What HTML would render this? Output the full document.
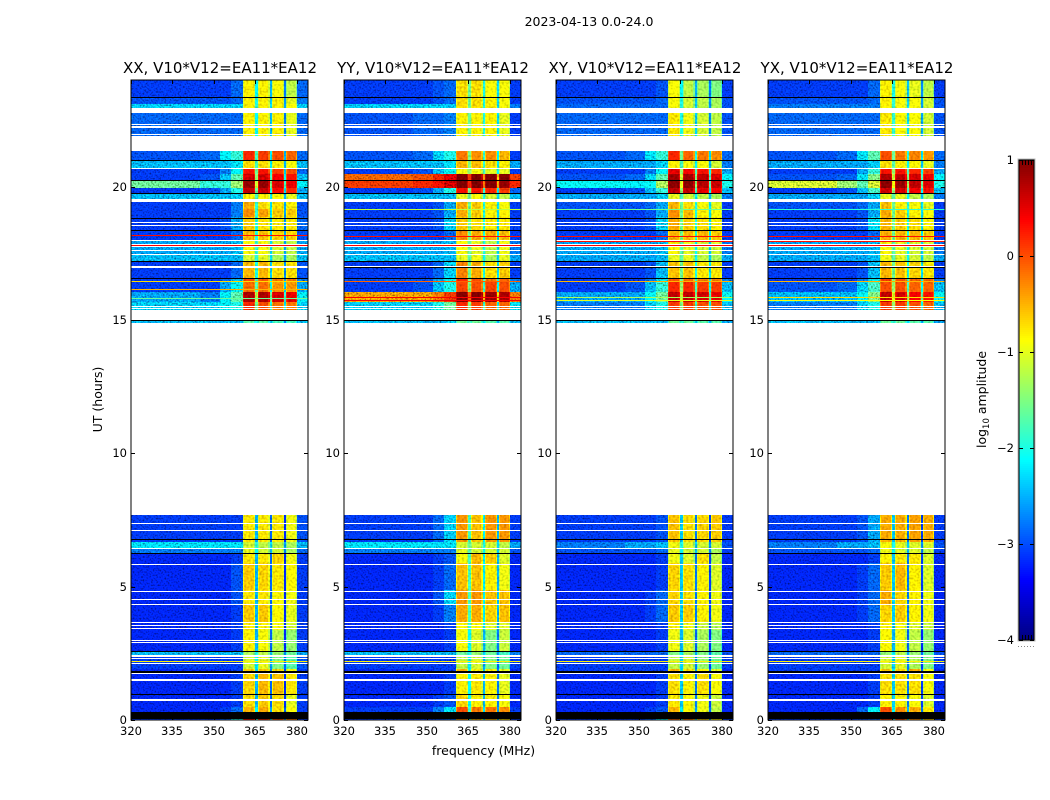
<!DOCTYPE html>
<html>
<head>
<meta charset="utf-8">
<title>2023-04-13 0.0-24.0</title>
<style>
html,body{margin:0;padding:0;background:#fff;width:1050px;height:800px;overflow:hidden}
svg{display:block}
text{font-family:"DejaVu Sans","Liberation Sans",sans-serif;fill:#000}
</style>
</head>
<body>
<svg id="chart" xmlns="http://www.w3.org/2000/svg" width="1050" height="800" viewBox="0 0 1050 800">
<defs>
<filter id="speckleStrong" filterUnits="userSpaceOnUse" x="0" y="0" width="1050" height="800" color-interpolation-filters="sRGB">
<feTurbulence type="fractalNoise" baseFrequency="0.6" numOctaves="1" seed="7" result="n"/>
<feColorMatrix in="n" type="matrix" values="1.5 0 0 0 -0.25  1.5 0 0 0 -0.25  1.5 0 0 0 -0.25  0 0 0 0 1" result="g"/>
<feComposite in="SourceGraphic" in2="g" operator="arithmetic" k1="1.1" k2="0.47" k3="0" k4="0"/>
</filter>
<filter id="speckleWeak" filterUnits="userSpaceOnUse" x="0" y="0" width="1050" height="800" color-interpolation-filters="sRGB">
<feTurbulence type="fractalNoise" baseFrequency="0.45" numOctaves="1" seed="3" result="n"/>
<feColorMatrix in="n" type="matrix" values="1 0 0 0 0  1 0 0 0 0  1 0 0 0 0  0 0 0 0 1" result="g"/>
<feComposite in="SourceGraphic" in2="g" operator="arithmetic" k1="0.7" k2="0.65" k3="0" k4="0"/>
</filter>
</defs>
<text x="589" y="26" font-size="12.5" text-anchor="middle">2023-04-13 0.0-24.0</text>
<text x="483.5" y="755" font-size="12.5" text-anchor="middle">frequency (MHz)</text>
<text x="0" y="0" font-size="12.5" text-anchor="middle" transform="translate(102,399.5) rotate(-90)">UT (hours)</text>
<text x="0" y="0" font-size="12.5" text-anchor="middle" transform="translate(986,399.5) rotate(-90)">log<tspan font-size="8.5" dy="3">10</tspan><tspan dy="-3"> amplitude</tspan></text>
</svg>
<script>
var panelTitles = ["XX, V10*V12=EA11*EA12","YY, V10*V12=EA11*EA12","XY, V10*V12=EA11*EA12","YX, V10*V12=EA11*EA12"];
var xTickValues = [320,335,350,365,380];
var yTickValues = [0,5,10,15,20];
var cbarTickValues = [1,0,-1,-2,-3,-4];
var cbarTickLabels = ["1","0","\u22121","\u22122","\u22123","\u22124"];
var freqEdges = [320,345,352,356,360.4,360.8,364.6,365,365.9,366.3,369.7,370.1,371,371.4,374.8,375.2,376.1,376.5,379.6,380,384];
var bandStart = [24,23.35,23.1,22.94,21.32,21,20.7,20.49,20.25,19.96,19.73,19.44,19.18,18.86,18.36,18,17.49,17.2,16.58,16.42,16.04,15.67,15,7.67,6.69,6.46,6.26,5.87,4.86,4.33,3.66,3.36,2.6,2.38,1.93,1.78,0.96,0.5,0.29,0.045];
var bandEnd = [23.35,23.1,22.94,21.32,21,20.7,20.49,20.25,19.96,19.73,19.44,19.18,18.86,18.36,18,17.49,17.2,16.58,16.42,16.04,15.67,15.37,14.9,6.69,6.46,6.26,5.87,4.86,4.33,3.66,3.36,2.6,2.38,1.93,1.78,0.96,0.5,0.29,0.045,0];
var whiteStart = [22.94,22.35,22.26,21.98,21.89,20.7,19.52,18.67,18.56,17.99,17.86,17.62,17.49,17.01,15.54,15.44,15.37,7.39,7.14,6.46,5.86,4.85,4.55,4.36,3.66,3.56,3.44,3,2.93,2.42,2.33,2.13,1.76,1.52,0.77];
var whiteEnd = [22.76,22.31,22.2,21.94,21.32,20.66,19.44,18.64,18.53,17.97,17.73,17.58,17.46,16.96,15.5,15.42,15.01,7.36,7.11,6.4,5.82,4.81,4.51,4.32,3.63,3.53,3.41,2.97,2.9,2.38,2.3,2.09,1.72,1.48,0.73];
var blackStart = [23.35,21,20.26,19.75,18.83,18.38,17.2,16.58,15.01,6.79,6.27,2.6,1.82,0.98,0.29];
var blackEnd = [23.31,20.96,20.22,19.71,18.78,18.33,17.17,16.54,14.98,6.76,6.24,2.57,1.78,0.96,0.05];

/* log10 amplitude per row: 320-345, 345-352, 352-356, 356-360, sub1, sub2, sub3, sub4, gaps, 380-384 */
var levelsXX = [
[-3,-3,-3,-2.8,-.8,-.8,-.9,-1.2,-2.5,-2.8],
[-2.9,-2.9,-2.9,-2.8,-.8,-.8,-.8,-1,-2.4,-2.7],
[-2.4,-2.4,-2.4,-2.4,-.8,-.8,-.8,-.9,-2.3,-2.4],
[-2.8,-2.8,-2.8,-2.8,-.8,-.8,-.8,-1,-2.5,-2.8],
[-2.9,-2.8,-2.2,-1.9,.2,.1,0,-.1,-2.2,-2.8],
[-2.5,-2.5,-2.5,-2.3,-.7,-.7,-.8,-.9,-2.2,-2.5],
[-3,-3,-2.7,-2.2,.3,.3,.1,0,-2,-2.8],
[-3,-2.9,-2.5,-1.7,.6,.6,.4,.3,-1.8,-2.5],
[-1.6,-1.9,-1.9,-1.4,.9,.9,.6,.45,-1.5,-2.2],
[-3,-2.9,-2.6,-2,.65,.65,.35,.2,-2,-2.6],
[-2.5,-2.5,-2.5,-2.4,-.8,-.8,-.9,-1,-2.2,-2.5],
[-3,-3,-3,-2.7,-.45,-.7,-.7,-.8,-2.3,-2.9],
[-3,-3,-3,-2.7,-.3,-.4,-.6,-.6,-2.3,-2.9],
[-3,-3,-2.9,-2.6,-.6,-.7,-.75,-.75,-2.4,-2.8],
[-3,-3,-3,-2.8,-.5,-.55,-.65,-.65,-2.4,-2.9],
[-2.6,-2.6,-2.6,-2.5,-.9,-.9,-1.1,-1.2,-2.3,-2.6],
[-2.5,-2.5,-2.5,-2.5,-1.1,-1,-1.3,-1.3,-2.3,-2.5],
[-3,-3,-3,-2.8,-.5,-.5,-.7,-.7,-2.4,-2.9],
[-3,-3,-2.8,-2.5,.05,-.05,-.2,-.2,-2.2,-2.7],
[-3,-3,-2.6,-2.1,-.15,-.15,-.35,-.35,-2.1,-2.6],
[-2.6,-2.7,-2.2,-1.7,.8,.8,.6,.5,-1.6,-2.2],
[-2.4,-2.4,-2.2,-2,.2,0,-.2,-.2,-2,-2.4],
[-2.5,-2.5,-2.5,-2.5,-1.7,-1.7,-1.8,-1.8,-2.4,-2.5],
[-3,-3,-3,-3,-.75,-.75,-.75,-.95,-2.8,-2.9],
[-2.3,-2.3,-2.3,-2.3,-1.1,-1.2,-1.2,-1.3,-2.3,-2.5],
[-2.7,-2.7,-2.7,-2.7,-1,-1.1,-1.1,-1.3,-2.5,-2.8],
[-3.1,-3.1,-3.1,-3,-.75,-.75,-.65,-.95,-2.8,-3],
[-3.1,-3.1,-3.1,-2.9,-.6,-.65,-.75,-.85,-2.8,-3],
[-3.1,-3.1,-3.1,-2.9,-.75,-.75,-.85,-.95,-2.8,-3],
[-3.1,-3.1,-3.1,-3,-.6,-.6,-.85,-1,-2.8,-3],
[-3.1,-3.1,-3.1,-3,-.75,-.8,-.9,-1.1,-2.8,-3],
[-3.1,-3.1,-3.1,-3,-.8,-.9,-1.2,-1.4,-2.8,-3],
[-2.5,-2.5,-2.5,-2.5,-1.3,-1.2,-1.4,-1.6,-2.4,-2.6],
[-3,-3,-3,-3,-1.1,-1,-1.5,-1.7,-2.6,-2.9],
[-3.1,-3.1,-3.1,-3,-.6,-.6,-.7,-.9,-2.7,-3],
[-3.1,-3.1,-3.1,-3,-.65,-.5,-.55,-.75,-2.8,-3],
[-3.1,-3.1,-3.1,-3,-.7,-.6,-.7,-1,-2.8,-3],
[-3.1,-3.1,-3,-2.8,-.5,-.45,-.7,-.9,-2.6,-3],
[-3,-3,-3,-3,-.5,-.5,-.6,-.8,-2.6,-3],
[-3,-3,-2.8,-2,.3,.2,0,-.2,-2.3,-3]
];
var levelsYY = [
[-3,-3,-2.9,-2.8,-.7,-.7,-.9,-.9,-2,-3],
[-3,-3,-2.9,-2.8,-.7,-.7,-.8,-.9,-2,-3],
[-2.4,-2.4,-2.4,-2.4,-.7,-.7,-.8,-.9,-2,-2.7],
[-2.9,-2.8,-2.8,-2.7,-.8,-.8,-.8,-1,-2,-3],
[-2.9,-2.8,-2.4,-2,-.2,-.3,-.3,-.5,-1.9,-3],
[-2.5,-2.5,-2.5,-2.3,-.5,-.5,-.7,-.8,-1.9,-2.6],
[-3,-2.9,-2.5,-2.1,-.9,-.9,-1,-1,-1.8,-3],
[-.1,0,.2,.5,1,1,1,1,-.3,.1],
[.1,.2,.3,.6,1,1,1,.9,-.2,.2],
[-3,-2.9,-2.6,-2,.3,.3,.2,.1,-1.9,-2.8],
[-2.5,-2.5,-2.5,-2.5,-1,-.9,-1.1,-1.2,-2,-2.5],
[-3,-3,-2.9,-2.6,-.45,-.6,-.8,-.9,-2,-3],
[-3,-3,-2.9,-2.6,-.45,-.6,-.8,-.8,-2,-3],
[-3,-3,-2.9,-2.4,-.6,-.7,-.75,-.75,-2,-3],
[-3,-3,-3,-2.8,-.3,-.45,-.45,-.55,-2,-3],
[-2.6,-2.6,-2.6,-2.5,-.9,-1,-1.2,-.95,-2,-2.7],
[-2.5,-2.5,-2.5,-2.5,-1,-.95,-1.3,-1,-2.1,-2.6],
[-3,-3,-2.8,-2.4,-.25,-.45,-.7,-.6,-2,-3],
[-2.9,-2.9,-2.6,-2.2,.2,0,-.2,-.1,-1.9,-2.7],
[-3,-2.9,-2.5,-2,.05,0,.05,0,-1.9,-2.6],
[-.4,-.4,-.2,.1,1,1,.9,.8,-.5,-.2],
[-2.4,-2.4,-2,-1.6,.2,.1,-.1,-.1,-1.9,-2.3],
[-2.5,-2.5,-2.5,-2.4,-1.6,-1.6,-1.7,-1.7,-2.2,-2.5],
[-3,-3,-2.8,-2.4,-.35,-.55,-.35,-.35,-2.2,-3],
[-2.3,-2.3,-2.3,-2.3,-1.1,-1.1,-1.1,-1.2,-2,-2.6],
[-2.7,-2.7,-2.7,-2.7,-1,-1.1,-1.1,-1.1,-2.1,-2.9],
[-3.1,-3.1,-3,-2.9,-.9,-.5,-.6,-1.05,-2.2,-3.1],
[-3.1,-3.1,-3,-2.8,-.55,-.55,-.8,-.95,-2.2,-3.1],
[-3.1,-3.1,-2.9,-2.4,-.35,-.35,-.55,-.55,-2.2,-3.1],
[-3.1,-3.1,-3,-2.7,-.45,-.45,-.65,-.55,-2.2,-3.1],
[-3.1,-3.1,-3.1,-3,-.85,-.85,-1.05,-1.05,-2.3,-3.1],
[-3.1,-3.1,-3.1,-3,-.9,-1.05,-1.5,-1.15,-2.5,-3.1],
[-2.5,-2.5,-2.5,-2.5,-1.6,-1.4,-1.6,-1.8,-2.4,-2.7],
[-3,-3,-3,-3,-1.2,-1.1,-1.5,-1.6,-2.6,-3],
[-3.1,-3.1,-3,-3,-.45,-.8,-.8,-1,-2.5,-3.1],
[-3.1,-3.1,-3.1,-3,-.8,-.75,-.8,-1,-2.5,-3.1],
[-3.1,-3.1,-3,-2.9,-.65,-.8,-.8,-.9,-2.5,-3.1],
[-3,-3,-2.7,-2.3,0,-.2,-.2,-.3,-2.3,-3],
[-3,-3,-3,-3,-.5,-.5,-.6,-.8,-2.5,-3],
[-3,-3,-2.9,-2.8,-.3,-.5,-.5,-.7,-2.3,-3]
];
var levelsXY = [
[-3,-3,-3,-2.9,-.9,-1.2,-1.3,-1.5,-2.5,-3],
[-2.9,-2.9,-2.9,-2.8,-.9,-1.1,-1.2,-1.3,-2.4,-2.9],
[-2.8,-2.8,-2.8,-2.8,-.9,-1.1,-1.2,-1.3,-2.4,-2.9],
[-2.8,-2.8,-2.8,-2.8,-.75,-.95,-1.1,-1.2,-2.4,-2.9],
[-2.9,-2.8,-2.3,-1.9,.2,-.1,-.2,-.3,-2,-2.8],
[-2.6,-2.6,-2.6,-2.4,-.8,-.9,-.9,-1.1,-2.2,-2.7],
[-3,-3,-2.7,-2.2,.5,.4,.3,.2,-1.8,-2.6],
[-2.9,-2.8,-2.4,-1.7,.85,.85,.7,.6,-1.5,-2.2],
[-2.1,-2.2,-2.1,-1.3,.95,.95,.75,.65,-1.4,-2],
[-3,-2.9,-2.5,-1.9,.7,.7,.5,.4,-1.8,-2.5],
[-2.6,-2.6,-2.6,-2.4,-1,-1.1,-1.2,-1.3,-2.2,-2.7],
[-2.9,-2.9,-2.8,-2.6,-.5,-.7,-.9,-1,-2,-3],
[-3,-3,-2.9,-2.6,-.3,-.5,-.8,-.9,-2,-3],
[-3,-3,-2.9,-2.4,-.45,-.6,-.7,-.8,-2,-3],
[-3,-3,-3,-2.8,-.5,-.5,-.5,-.6,-2,-3],
[-2.6,-2.6,-2.6,-2.5,-.85,-1,-1.1,-1.1,-2.1,-2.7],
[-2.6,-2.6,-2.6,-2.5,-1,-1,-1.2,-1.3,-2.1,-2.6],
[-3,-3,-2.9,-2.5,-.55,-.55,-.75,-.75,-2,-3],
[-3,-3,-2.7,-2.3,-.05,-.15,-.25,-.25,-2,-2.7],
[-3,-2.9,-2.5,-1.9,.2,.2,.1,.1,-1.8,-2.5],
[-2.6,-2.6,-2.1,-1.6,.7,.7,.6,.5,-1.5,-2.1],
[-2.7,-2.7,-2.4,-2,.1,.1,0,0,-1.9,-2.5],
[-2.5,-2.5,-2.5,-2.5,-1.6,-1.6,-1.7,-1.7,-2.3,-2.6],
[-3,-3,-3,-2.9,-.55,-.7,-.65,-.6,-2.7,-3],
[-2.7,-2.6,-2.6,-2.5,-.95,-1.05,-1.1,-1.1,-2.4,-2.9],
[-2.9,-2.9,-2.9,-2.8,-1,-1.1,-1.1,-1.3,-2.5,-3],
[-3.1,-3.1,-3.1,-3,-.95,-1.05,-.7,-1.2,-2.7,-3.1],
[-3.1,-3.1,-3.1,-3,-.65,-.7,-.8,-1.05,-2.7,-3.1],
[-3.1,-3.1,-3,-2.8,-.65,-.7,-.8,-.95,-2.7,-3.1],
[-3.1,-3.1,-3,-2.8,-.6,-.6,-.8,-.95,-2.7,-3.1],
[-3.1,-3.1,-3.1,-3,-.8,-.95,-1.15,-1.25,-2.7,-3.1],
[-3.1,-3.1,-3.1,-3,-.95,-1.05,-1.3,-1.5,-2.8,-3.1],
[-2.8,-2.8,-2.8,-2.8,-1.5,-1.3,-1.5,-1.7,-2.6,-2.9],
[-3,-3,-3,-3,-1.2,-1.1,-1.4,-1.6,-2.7,-3],
[-3,-3,-3,-3,-.5,-.7,-.8,-1,-2.6,-3.1],
[-3.1,-3.1,-3.1,-3,-.7,-.8,-.7,-.9,-2.7,-3.1],
[-3.1,-3.1,-3.1,-3,-.75,-.85,-.95,-1.15,-2.7,-3.1],
[-3.1,-3.1,-3,-2.9,-.5,-.85,-.95,-1.2,-2.6,-3.1],
[-3,-3,-3,-3,-.5,-.5,-.6,-.8,-2.6,-3],
[-3,-3,-2.8,-2.2,-.1,-.2,-.6,-.8,-2.3,-3]
];
var levelsYX = [
[-3,-3,-3,-2.8,-.8,-.9,-1,-1.2,-2.4,-3],
[-2.9,-2.9,-2.9,-2.8,-.8,-.9,-.9,-1.1,-2.3,-2.9],
[-2.7,-2.7,-2.7,-2.7,-.8,-.9,-.9,-1.1,-2.3,-2.9],
[-2.8,-2.8,-2.8,-2.8,-.75,-.85,-.9,-1.1,-2.3,-2.9],
[-2.9,-2.8,-2.3,-1.7,0,-.2,-.25,-.35,-2,-2.8],
[-2.6,-2.6,-2.6,-2.4,-.7,-.8,-.85,-1,-2.1,-2.7],
[-3,-3,-2.6,-1.9,.3,.3,.2,.1,-1.8,-2.6],
[-2.9,-2.8,-2.3,-1.5,.8,.7,.6,.5,-1.5,-2.2],
[-1.1,-1.4,-1.7,-1.1,.95,.9,.7,.55,-1.3,-2],
[-3,-2.9,-2.5,-1.8,.6,.6,.4,.3,-1.8,-2.5],
[-2.6,-2.6,-2.6,-2.4,-1,-1,-1.2,-1.3,-2.1,-2.7],
[-2.9,-2.9,-2.8,-2.6,-.55,-.8,-.9,-1,-2,-3],
[-3,-3,-2.9,-2.6,-.45,-.6,-.8,-.9,-2,-3],
[-3,-3,-2.9,-2.3,-.5,-.6,-.7,-.8,-2,-3],
[-3,-3,-3,-2.8,-.45,-.5,-.5,-.6,-2,-3],
[-2.6,-2.6,-2.6,-2.5,-.85,-1,-1.1,-1.1,-2.1,-2.7],
[-2.6,-2.6,-2.6,-2.5,-.95,-1,-1.1,-1.2,-2.1,-2.6],
[-3,-3,-2.9,-2.5,-.5,-.55,-.65,-.75,-2,-3],
[-3,-3,-2.7,-2.2,.1,0,-.1,-.1,-1.9,-2.7],
[-2.9,-2.8,-2.4,-1.8,0,0,-.1,-.1,-1.8,-2.5],
[-2.5,-2.5,-2.1,-1.5,.7,.6,.4,.3,-1.4,-2.1],
[-2.7,-2.7,-2.4,-2,.1,.1,0,-.1,-1.8,-2.5],
[-2.5,-2.5,-2.5,-2.5,-1.6,-1.6,-1.7,-1.7,-2.3,-2.6],
[-3,-3,-2.9,-2.6,-.45,-.45,-.4,-.45,-2.7,-3],
[-2.7,-2.6,-2.6,-2.5,-.9,-1,-1.05,-1.05,-2.4,-2.9],
[-2.9,-2.9,-2.9,-2.8,-.95,-1.05,-1.05,-1.2,-2.5,-3],
[-3.1,-3.1,-3.1,-3,-.8,-.75,-.75,-1.05,-2.7,-3.1],
[-3.1,-3.1,-3,-2.8,-.6,-.5,-.8,-1.05,-2.7,-3.1],
[-3.1,-3.1,-3,-2.8,-.45,-.65,-.8,-.95,-2.7,-3.1],
[-3.1,-3.1,-3,-2.8,-.65,-.6,-.8,-.95,-2.7,-3.1],
[-3.1,-3.1,-3.1,-3,-.8,-.9,-1.05,-1.15,-2.7,-3.1],
[-3.1,-3.1,-3.1,-3,-.85,-.95,-1.2,-1.4,-2.8,-3.1],
[-2.8,-2.8,-2.8,-2.8,-1.4,-1.2,-1.4,-1.6,-2.6,-2.9],
[-3,-3,-3,-3,-1.1,-1,-1.3,-1.5,-2.7,-3],
[-3,-3,-3,-3,-.6,-.6,-.45,-.9,-2.6,-3.1],
[-3.1,-3.1,-3.1,-3,-.7,-.7,-.7,-.9,-2.7,-3.1],
[-3.1,-3.1,-3.1,-3,-.8,-.8,-.9,-1.05,-2.7,-3.1],
[-3.1,-3.1,-2.8,-2.2,0,-.3,-.45,-.75,-2.5,-3.1],
[-3,-3,-3,-3,-.5,-.5,-.6,-.8,-2.6,-3],
[-3,-3,-2.9,-2.8,.1,0,-.3,-.6,-2.3,-3]
];
var lineHoursXX = [18.17,17.82,16.48,16.17,15.83,2.21];
var lineValuesXX = [.3,.4,-.7,-.5,-1.6,-.8];
var lineHoursYY = [19.17,18.14,17.82,16.48,15.88,15.76,2.21];
var lineValuesYY = [-1.2,.3,.4,-.1,.4,.4,-.8];
var lineHoursXY = [19.17,18.14,17.82,17.98,16.48,15.88,15.76,2.21];
var lineValuesXY = [-1.6,.3,.4,.3,-.5,-1.3,-1,-.8];
var lineHoursYX = [19.17,18.14,17.82,17.98,16.48,15.88,15.76,2.21];
var lineValuesYX = [-1.9,.3,.4,.3,-.5,-.7,-.9,-.8];
var extraBlackHours = [[],[16.98],[16.98],[16.98]];

var panelLevels = [levelsXX,levelsYY,levelsXY,levelsYX];
var panelLineHours = [lineHoursXX,lineHoursYY,lineHoursXY,lineHoursYX];
var panelLineValues = [lineValuesXX,lineValuesYY,lineValuesXY,lineValuesYX];

var svg = document.getElementById('chart');
var NS = 'http://www.w3.org/2000/svg';
var panelLeft = [131,344,556,768];
var panelW = 177, top_ = 80, bottom_ = 720;
var colSource = [0,1,2,3, 4,4,4, 8, 5,5,5, 8, 6,6,6, 8, 7,7,7, 9];
var colOffset = [0,0,0,0, -.3,0,-.3, .4, -.3,0,-.3, 0, -.3,0,-.3, -.3, -.3,0,-.3, 0];

function xScale(f, p){ return panelLeft[p] + (f - 320) * panelW / 64; }
function yScale(h){ return bottom_ - h * (bottom_ - top_) / 24; }
function cScale(v){ return 640 - (v + 4) * 96; }
/* display calibration: the estimated blue floor read slightly high, so it is lowered before colouring */
function floorCorrected(v){ return v < -2.6 ? v - 0.1 : v; }
function jet(v){
  var t = Math.max(0, Math.min(1, (v + 4) / 5));
  function ch(a){ return Math.round(255 * Math.max(0, Math.min(1, a))); }
  var r = 1.5 - Math.abs(4 * t - 3), g = 1.5 - Math.abs(4 * t - 2), b = 1.5 - Math.abs(4 * t - 1);
  return 'rgb(' + ch(r) + ',' + ch(g) + ',' + ch(b) + ')';
}
function mk(tag, attrs, parent){
  var e = document.createElementNS(NS, tag);
  for (var k in attrs) e.setAttribute(k, attrs[k]);
  (parent || svg).appendChild(e);
  return e;
}

panelTitles.forEach(function(title, p){
  var g = mk('g', {'shape-rendering':'crispEdges'});
  
  
  var gBg = mk('g', {filter:'url(#speckleStrong)'}, g);
  
  
  var gBand = mk('g', {filter:'url(#speckleWeak)'}, g);
  
  
  var L = panelLeft[p], R = L + panelW;
  var lv = panelLevels[p];
  bandStart.forEach(function(hs, r){
    var y0 = Math.round(yScale(hs)), y1 = Math.round(yScale(bandEnd[r]));
    for (var c = 0; c < colSource.length; c++){
      var x0 = Math.round(xScale(freqEdges[c], p)), x1 = Math.round(xScale(freqEdges[c+1], p));
      var inBand = c >= 4 && c <= 18;
      var cell = mk('rect', {x:x0, y:y0, width:Math.max(1,x1-x0), height:Math.max(1,y1-y0), fill:jet(floorCorrected(lv[r][colSource[c]]) + colOffset[c])}, inBand ? gBand : gBg);
      
      
    }
  });
  whiteStart.forEach(function(h, i){
    var y0 = Math.round(yScale(h)), y1 = Math.round(yScale(whiteEnd[i]));
    var w = mk('rect', {x:L, y:y0, width:panelW, height:Math.max(1,y1-y0), fill:'#fff'}, g);
    
    
  });
  panelLineHours[p].forEach(function(h, i){
    var ln = mk('rect', {x:L, y:Math.round(yScale(h)), width:panelW, height:1, fill:jet(panelLineValues[p][i])}, g);
    
    
  });
  blackStart.forEach(function(h, i){
    var y0 = Math.round(yScale(h)), y1 = Math.round(yScale(blackEnd[i]));
    var b = mk('rect', {x:L, y:y0, width:panelW, height:Math.max(1,y1-y0), fill:'#000'}, g);
    
    
  });
  extraBlackHours[p].forEach(function(h){
    var b2 = mk('rect', {x:L, y:Math.round(yScale(h)), width:panelW, height:1, fill:'#000'}, g);
    
    
  });
  xTickValues.forEach(function(v){
    var x = Math.round(xScale(v, p));
    var t1 = mk('rect', {x:x, y:bottom_-4, width:1, height:4, fill:'#000'}, g);
    
    
    var t2 = mk('rect', {x:x, y:top_, width:1, height:4, fill:'#000'}, g);
    
    
    var tx = mk('text', {x:x, y:bottom_+15, 'font-size':11.5, 'text-anchor':'middle'});
    
    
    tx.textContent = v;
  });
  yTickValues.forEach(function(v){
    var y = Math.round(yScale(v));
    var t1 = mk('rect', {x:L, y:y, width:4, height:1, fill:'#000'}, g);
    
    
    var t2 = mk('rect', {x:R-4, y:y, width:4, height:1, fill:'#000'}, g);
    
    
    var ty = mk('text', {x:L-4, y:y+4, 'font-size':11.5, 'text-anchor':'end'});
    
    
    ty.textContent = v;
  });
  var frame = mk('rect', {x:L, y:top_, width:panelW, height:bottom_-top_, fill:'none', stroke:'#000', 'stroke-width':1}, g);
  
  
  var tt = mk('text', {x:L+panelW/2+0.5, y:73, 'font-size':15, 'text-anchor':'middle'});
  
  
  tt.textContent = title;
});

var cb = mk('g', {'shape-rendering':'crispEdges'});


for (var i = 0; i < 240; i++){
  var seg = mk('rect', {x:1019, y:160+i*2, width:15, height:2, fill:jet(1 - (i + .5) / 48)}, cb);
  
  
}
var halo = mk('rect', {x:1018, y:159, width:17, height:482, fill:'none', stroke:'#bbb', 'stroke-width':1}, cb);


var cbFrame = mk('rect', {x:1019, y:160, width:15, height:480, fill:'none', stroke:'#000', 'stroke-width':1}, cb);


cbarTickValues.forEach(function(v, i){
  var y = Math.round(cScale(v));
  var a = mk('rect', {x:1019, y:y, width:4, height:1, fill:'#000'}, cb);
  
  
  var b = mk('rect', {x:1030, y:y, width:4, height:1, fill:'#000'}, cb);
  
  
  var t = mk('text', {x:1014, y:y+4, 'font-size':11.5, 'text-anchor':'end'});
  
  
  t.textContent = cbarTickLabels[i];
});
[1022,1025,1028,1031].forEach(function(x){
  var m1 = mk('rect', {x:x, y:160, width:1, height:5, fill:'#000'}, cb);
  
  
  var m2 = mk('rect', {x:x, y:635, width:1, height:5, fill:'#000'}, cb);
  
  
});
[1018,1021,1024,1027,1030,1033].forEach(function(x){
  var d = mk('rect', {x:x, y:646, width:1, height:1, fill:'#888'}, cb);
  
  
});
</script>
</body>
</html>
